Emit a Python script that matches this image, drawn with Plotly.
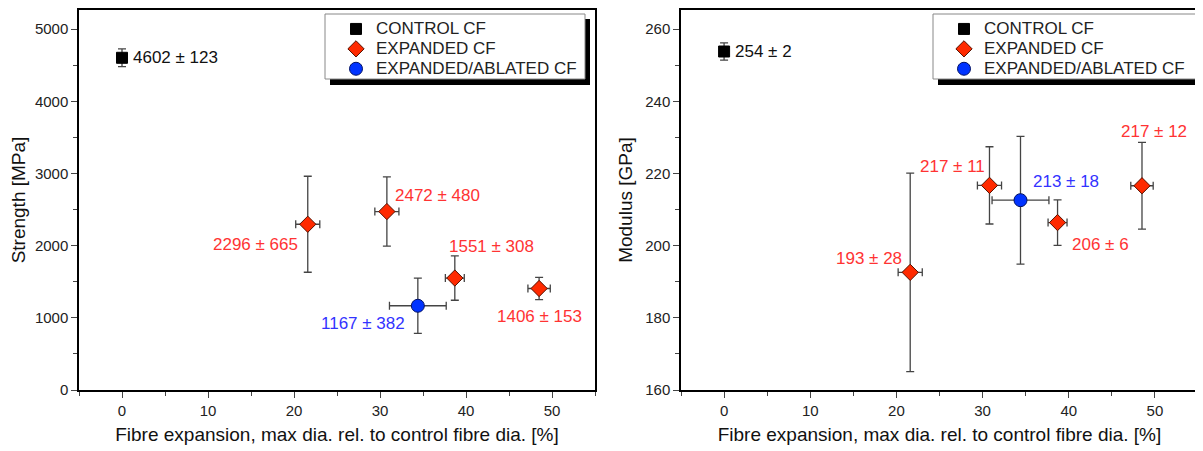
import plotly.graph_objects as go

# ---------------- data ----------------
series_names = ["CONTROL CF", "EXPANDED CF", "EXPANDED/ABLATED CF"]

control_x = [0.0]
control_xerr = [0.5]
control_strength = [4602]
control_strength_err = [123]
control_modulus = [253.8]
control_modulus_err = [2.4]
control_mod_label = [254]
control_mod_label_err = [2]

expanded_x = [21.6, 30.8, 38.7, 48.5]
expanded_xerr = [1.4, 1.4, 1.1, 1.3]
expanded_strength = [2296, 2472, 1551, 1406]
expanded_strength_err = [665, 480, 308, 153]
expanded_modulus = [192.6, 216.7, 206.4, 216.6]
expanded_modulus_err = [27.5, 10.7, 6.3, 12.0]
expanded_mod_label = [193, 217, 206, 217]
expanded_mod_label_err = [28, 11, 6, 12]

ablated_x = [34.4]
ablated_xerr = [3.3]
ablated_strength = [1167]
ablated_strength_err = [382]
ablated_modulus = [212.6]
ablated_modulus_err = [17.7]
ablated_mod_label = [213]
ablated_mod_label_err = [18]

x_ticks = [0, 10, 20, 30, 40, 50]
strength_ticks = [0, 1000, 2000, 3000, 4000, 5000]
modulus_ticks = [160, 180, 200, 220, 240, 260]

x_title = "Fibre expansion, max dia. rel. to control fibre dia. [%]"
y_titles = ["Strength [MPa]", "Modulus [GPa]"]

# ---------------- style ----------------
FONT = "Liberation Sans, Arial, sans-serif"
BLACK = "#000000"
RED = "#ff2a00"
RED_TXT = "#ff3333"
BLUE = "#0033ff"
BLUE_TXT = "#3333ff"
ERR = "#444444"
W, H = 1203, 451
OFF = 8  # page body margin of the browser

def px(v): return (v - OFF) / W
def py(v): return 1 - (v - OFF) / H

fig = go.Figure()

def err(arr, width=4):
    return dict(type="data", array=arr, visible=True, color=ERR, thickness=1.3, width=width)

def legname(s):
    return f"<span style='font-size:17px'>{s}</span>"

panels = [
    dict(xa="x", ya="y", legend="legend",
         c=(control_strength, control_strength_err),
         e=(expanded_strength, expanded_strength_err),
         a=(ablated_strength, ablated_strength_err)),
    dict(xa="x2", ya="y2", legend="legend2",
         c=(control_modulus, control_modulus_err),
         e=(expanded_modulus, expanded_modulus_err),
         a=(ablated_modulus, ablated_modulus_err)),
]

for p in panels:
    fig.add_trace(go.Scatter(
        x=control_x, y=p["c"][0], mode="markers", name=legname(series_names[0]),
        xaxis=p["xa"], yaxis=p["ya"], legend=p["legend"],
        error_y=err(p["c"][1]), error_x=err(control_xerr),
        marker=dict(symbol="square", size=11, color=BLACK, line=dict(color=BLACK, width=1))))
    fig.add_trace(go.Scatter(
        x=expanded_x, y=p["e"][0], mode="markers", name=legname(series_names[1]),
        xaxis=p["xa"], yaxis=p["ya"], legend=p["legend"],
        error_y=err(p["e"][1]), error_x=err(expanded_xerr),
        marker=dict(symbol="diamond", size=12.5, color=RED, line=dict(color="#551100", width=1))))
    fig.add_trace(go.Scatter(
        x=ablated_x, y=p["a"][0], mode="markers", name=legname(series_names[2]),
        xaxis=p["xa"], yaxis=p["ya"], legend=p["legend"],
        error_y=err(p["a"][1]), error_x=err(ablated_xerr),
        marker=dict(symbol="circle", size=13, color=BLUE, line=dict(color="#001166", width=1))))

# ---------------- annotations ----------------
def pm(v, e):
    return f"{v} \u00b1 {e}"

ANN_SIZE = 17
ann = []
def add(xr, yr, x, y, text, color, xanchor, xshift, yshift):
    ann.append(dict(xref=xr, yref=yr, x=x, y=y, text=text, showarrow=False,
                    xanchor=xanchor, yanchor="middle", xshift=xshift, yshift=yshift,
                    font=dict(family=FONT, size=ANN_SIZE, color=color)))

# strength
add("x", "y", control_x[0], control_strength[0], pm(control_strength[0], control_strength_err[0]), "#111111", "left", 9, 0)
s_place = [("right", -8, -20), ("left", 6, 16), ("center", 37, 32), ("center", 0, -28)]
for i in range(4):
    a, xs, ys = s_place[i]
    add("x", "y", expanded_x[i], expanded_strength[i], pm(expanded_strength[i], expanded_strength_err[i]), RED_TXT, a, xs, ys)
add("x", "y", ablated_x[0], ablated_strength[0], pm(ablated_strength[0], ablated_strength_err[0]), BLUE_TXT, "right", -11, -18)

# modulus
add("x2", "y2", control_x[0], control_modulus[0], pm(control_mod_label[0], control_mod_label_err[0]), "#111111", "left", 9, 0)
m_place = [("right", -6, 14), ("right", -2, 19), ("left", 12, -22), ("center", 12, 54)]
for i in range(4):
    a, xs, ys = m_place[i]
    add("x2", "y2", expanded_x[i], expanded_modulus[i], pm(expanded_mod_label[i], expanded_mod_label_err[i]), RED_TXT, a, xs, ys)
add("x2", "y2", ablated_x[0], ablated_modulus[0], pm(ablated_mod_label[0], ablated_mod_label_err[0]), BLUE_TXT, "left", 10, 19)

# ---------------- axes ----------------
TICKFONT = dict(family=FONT, size=15, color="#222222")
TITLEFONT = dict(family=FONT, size=19, color="#111111")

common_x = dict(range=[-5, 55], tickvals=x_ticks, ticks="outside", ticklen=6, tickwidth=1.3,
                minor=dict(dtick=5, ticks="outside", ticklen=4, tickwidth=1.3, tick0=0),
                showline=True, linecolor=BLACK, linewidth=1.5, mirror=True,
                showgrid=False, zeroline=False, automargin=False,
                tickfont=TICKFONT,
                title=dict(text=x_title, font=TITLEFONT, standoff=10))
common_y = dict(ticks="outside", ticklen=6, tickwidth=1.3,
                showline=True, linecolor=BLACK, linewidth=1.5, mirror=True,
                showgrid=False, zeroline=False, automargin=False,
                tickfont=TICKFONT)

legend_common = dict(xanchor="left", yanchor="top", bgcolor="rgba(0,0,0,0)", borderwidth=0,
                     font=dict(family=FONT, size=13, color="#222222"), itemsizing="trace")

fig.update_layout(
    width=W, height=H, margin=dict(l=0, r=0, t=0, b=0, autoexpand=False),
    paper_bgcolor="white", plot_bgcolor="white",
    font=dict(family=FONT),
    xaxis=dict(domain=[px(79), px(595)], anchor="y", **common_x),
    xaxis2=dict(domain=[px(681), px(1198)], anchor="y2", **common_x),
    yaxis=dict(domain=[py(390), py(10)], anchor="x", range=[0, 5264], tickvals=strength_ticks,
               minor=dict(dtick=500, ticks="outside", ticklen=4, tickwidth=1.3, tick0=0),
               title=dict(text=y_titles[0], font=TITLEFONT, standoff=8),
               **common_y),
    yaxis2=dict(domain=[py(390), py(10)], anchor="x2", range=[160, 265.3], tickvals=modulus_ticks,
                minor=dict(dtick=10, ticks="outside", ticklen=4, tickwidth=1.3, tick0=160),
                title=dict(text=y_titles[1], font=TITLEFONT, standoff=8),
                **common_y),
    legend=dict(x=px(336), y=py(14), **legend_common),
    legend2=dict(x=px(944), y=py(14), **legend_common),
    annotations=ann,
    showlegend=True,
)

# legend boxes with drop shadows
for (x0, x1) in [(325, 585), (933, 1197)]:
    fig.add_shape(type="rect", xref="paper", yref="paper",
                  x0=px(x0 + 5), x1=px(x1 + 5), y0=py(85), y1=py(19),
                  fillcolor="black", line=dict(width=0), layer="above")
    fig.add_shape(type="rect", xref="paper", yref="paper",
                  x0=px(x0), x1=px(x1), y0=py(79), y1=py(14),
                  fillcolor="white", line=dict(color="#888888", width=1), layer="above")

fig.write_html("out.html")
